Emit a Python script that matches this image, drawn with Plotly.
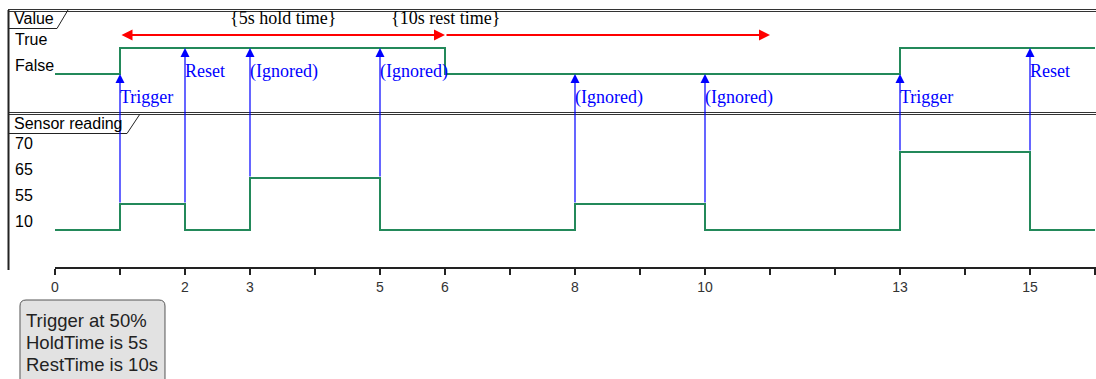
import plotly.graph_objects as go

W, H = 1096, 379

# signal data
value_levels = ["False", "True"]
sensor_levels = [10, 55, 65, 70]

value_times = [0, 1, 6, 13, 16]
value_states = ["False", "True", "False", "True", "True"]

sensor_times = [0, 1, 2, 3, 5, 8, 10, 13, 15, 16]
sensor_values = [10, 55, 10, 65, 10, 55, 10, 70, 10, 10]

# sensor -> value messages
event_times = [1, 2, 3, 5, 8, 10, 13, 15]
event_from = [55, 55, 65, 65, 55, 55, 70, 70]
event_to = ["False", "True", "True", "True", "False", "False", "False", "True"]
event_labels = ["Trigger", "Reset", "(Ignored)", "(Ignored)",
                "(Ignored)", "(Ignored)", "Trigger", "Reset"]

# constraints on the Value line
constraint_start = [1, 6]
constraint_end = [6, 11]
constraint_sides = ["end+start", "end"]
constraint_labels = ["{5s hold time}", "{10s rest time}"]
constraint_label_at = [3.5, 6]

tick_times = list(range(0, 17))
labelled_ticks = [0, 2, 3, 5, 6, 8, 10, 13, 15]

note_lines = ["Trigger at 50%", "HoldTime is 5s", "RestTime is 10s"]

# lanes on one shared y axis
lane = {lv: i for i, lv in enumerate(sensor_levels)}
lane.update({lv: 6 + i for i, lv in enumerate(value_levels)})

SANS = "Liberation Sans, Arial, sans-serif"
SERIF = "Liberation Serif, Times New Roman, serif"
GREEN = "#23895a"


def px(p):
    return p / W


def py(p):
    return 1 - p / H


fig = go.Figure()

fig.add_trace(go.Scatter(
    x=value_times, y=[lane[s] for s in value_states],
    mode="lines", line=dict(color=GREEN, width=2, shape="hv"),
    hoverinfo="skip", showlegend=False))
fig.add_trace(go.Scatter(
    x=sensor_times, y=[lane[v] for v in sensor_values],
    mode="lines", line=dict(color=GREEN, width=2, shape="hv"),
    hoverinfo="skip", showlegend=False))

annotations = []

# blue message arrows
for t, f, to, lab in zip(event_times, event_from, event_to, event_labels):
    annotations.append(dict(
        x=t, y=lane[to], ax=t, ay=lane[f], xref="x", yref="y",
        axref="x", ayref="y", text="", showarrow=True,
        arrowhead=2, arrowsize=1.5, arrowwidth=1.2, arrowcolor="blue"))
    annotations.append(dict(
        x=t, y=lane[to], xref="x", yref="y", text=lab, showarrow=False,
        xanchor="left", yanchor="middle", xshift=-2, yshift=-23,
        font=dict(family=SERIF, size=18, color="blue")))

# red constraint arrows
for s, e, side, lab, at in zip(constraint_start, constraint_end,
                               constraint_sides, constraint_labels,
                               constraint_label_at):
    annotations.append(dict(
        x=e, y=7.5, ax=s, ay=7.5, xref="x", yref="y", axref="x", ayref="y",
        text="", showarrow=True, arrowhead=2, arrowsize=1.1, arrowwidth=2,
        arrowcolor="red", arrowside=side, startarrowhead=2,
        startarrowsize=1.1))
    annotations.append(dict(
        x=at, y=7.5, xref="x", yref="y", text=lab, showarrow=False,
        yanchor="middle", yshift=17,
        font=dict(family=SERIF, size=18, color="black")))

# level names
for lv in value_levels + sensor_levels:
    annotations.append(dict(
        x=px(13), y=lane[lv], xref="paper", yref="y", text=str(lv),
        showarrow=False, xanchor="left", yanchor="middle", yshift=9,
        font=dict(family=SANS, size=16, color="black")))

# panel titles
annotations.append(dict(x=px(12), y=py(18), xref="paper", yref="paper",
                        text="Value", showarrow=False, xanchor="left",
                        yanchor="middle",
                        font=dict(family=SANS, size=16, color="black")))
annotations.append(dict(x=px(12), y=py(123), xref="paper", yref="paper",
                        text="Sensor reading", showarrow=False, xanchor="left",
                        yanchor="middle",
                        font=dict(family=SANS, size=16, color="black")))

# note text
for i, line in enumerate(note_lines):
    annotations.append(dict(x=px(24), y=py(320 + 22 * i), xref="paper",
                            yref="paper", text=line, showarrow=False,
                            xanchor="left", yanchor="middle",
                            font=dict(family=SANS, size=18.5, color="#222")))

shapes = []
frame = dict(type="line", xref="paper", yref="paper",
             line=dict(color="#333", width=1))
for yy in [9.5, 11.5, 112.5, 114.5]:
    shapes.append(dict(frame, x0=px(8), x1=1, y0=py(yy), y1=py(yy)))
shapes.append(dict(type="line", xref="paper", yref="paper",
                   x0=px(8.5), x1=px(8.5), y0=py(10), y1=py(270),
                   line=dict(color="#222", width=2)))
# title tabs
shapes.append(dict(type="path", xref="paper", yref="paper",
                   path="M %f,%f L %f,%f L %f,%f" % (
                       px(8), py(28.5), px(57), py(28.5), px(68), py(10)),
                   line=dict(color="#222", width=1)))
shapes.append(dict(type="path", xref="paper", yref="paper",
                   path="M %f,%f L %f,%f L %f,%f" % (
                       px(8), py(133.5), px(127), py(133.5), px(140), py(114)),
                   line=dict(color="#222", width=1)))
# note box
x0, x1, y0, y1, r = 20, 165, 300, 390, 6
path = ("M %f,%f L %f,%f Q %f,%f %f,%f L %f,%f L %f,%f L %f,%f Q %f,%f %f,%f Z" % (
    px(x0 + r), py(y0), px(x1 - r), py(y0), px(x1), py(y0), px(x1), py(y0 + r),
    px(x1), py(y1), px(x0), py(y1), px(x0), py(y0 + r),
    px(x0), py(y0), px(x0 + r), py(y0)))
shapes.append(dict(type="path", xref="paper", yref="paper", path=path,
                   fillcolor="#e2e2e2", line=dict(color="#555", width=1),
                   layer="below"))

fig.update_layout(
    width=W, height=H,
    margin=dict(l=0, r=0, t=0, b=0, pad=0, autoexpand=False),
    paper_bgcolor="white", plot_bgcolor="rgba(0,0,0,0)",
    showlegend=False, annotations=annotations, shapes=shapes,
    xaxis=dict(domain=[55 / W, 1], range=[0, (W - 55) / 65],
               anchor="free", position=py(268), automargin=False,
               showgrid=False, zeroline=False, showline=True,
               linecolor="#222", linewidth=2,
               ticks="outside", ticklen=6, tickwidth=2, tickcolor="#222",
               tickvals=tick_times,
               ticktext=[str(t) if t in labelled_ticks else "" for t in tick_times],
               tickfont=dict(family=SANS, size=14, color="#333")),
    yaxis=dict(range=[(230 - H) / 26, 230 / 26], visible=False,
               automargin=False, showgrid=False, zeroline=False),
)

fig.write_html("out.html", config={"displayModeBar": False},
               post_script="document.body.style.margin='0';"
                           "document.body.style.overflow='hidden';")
